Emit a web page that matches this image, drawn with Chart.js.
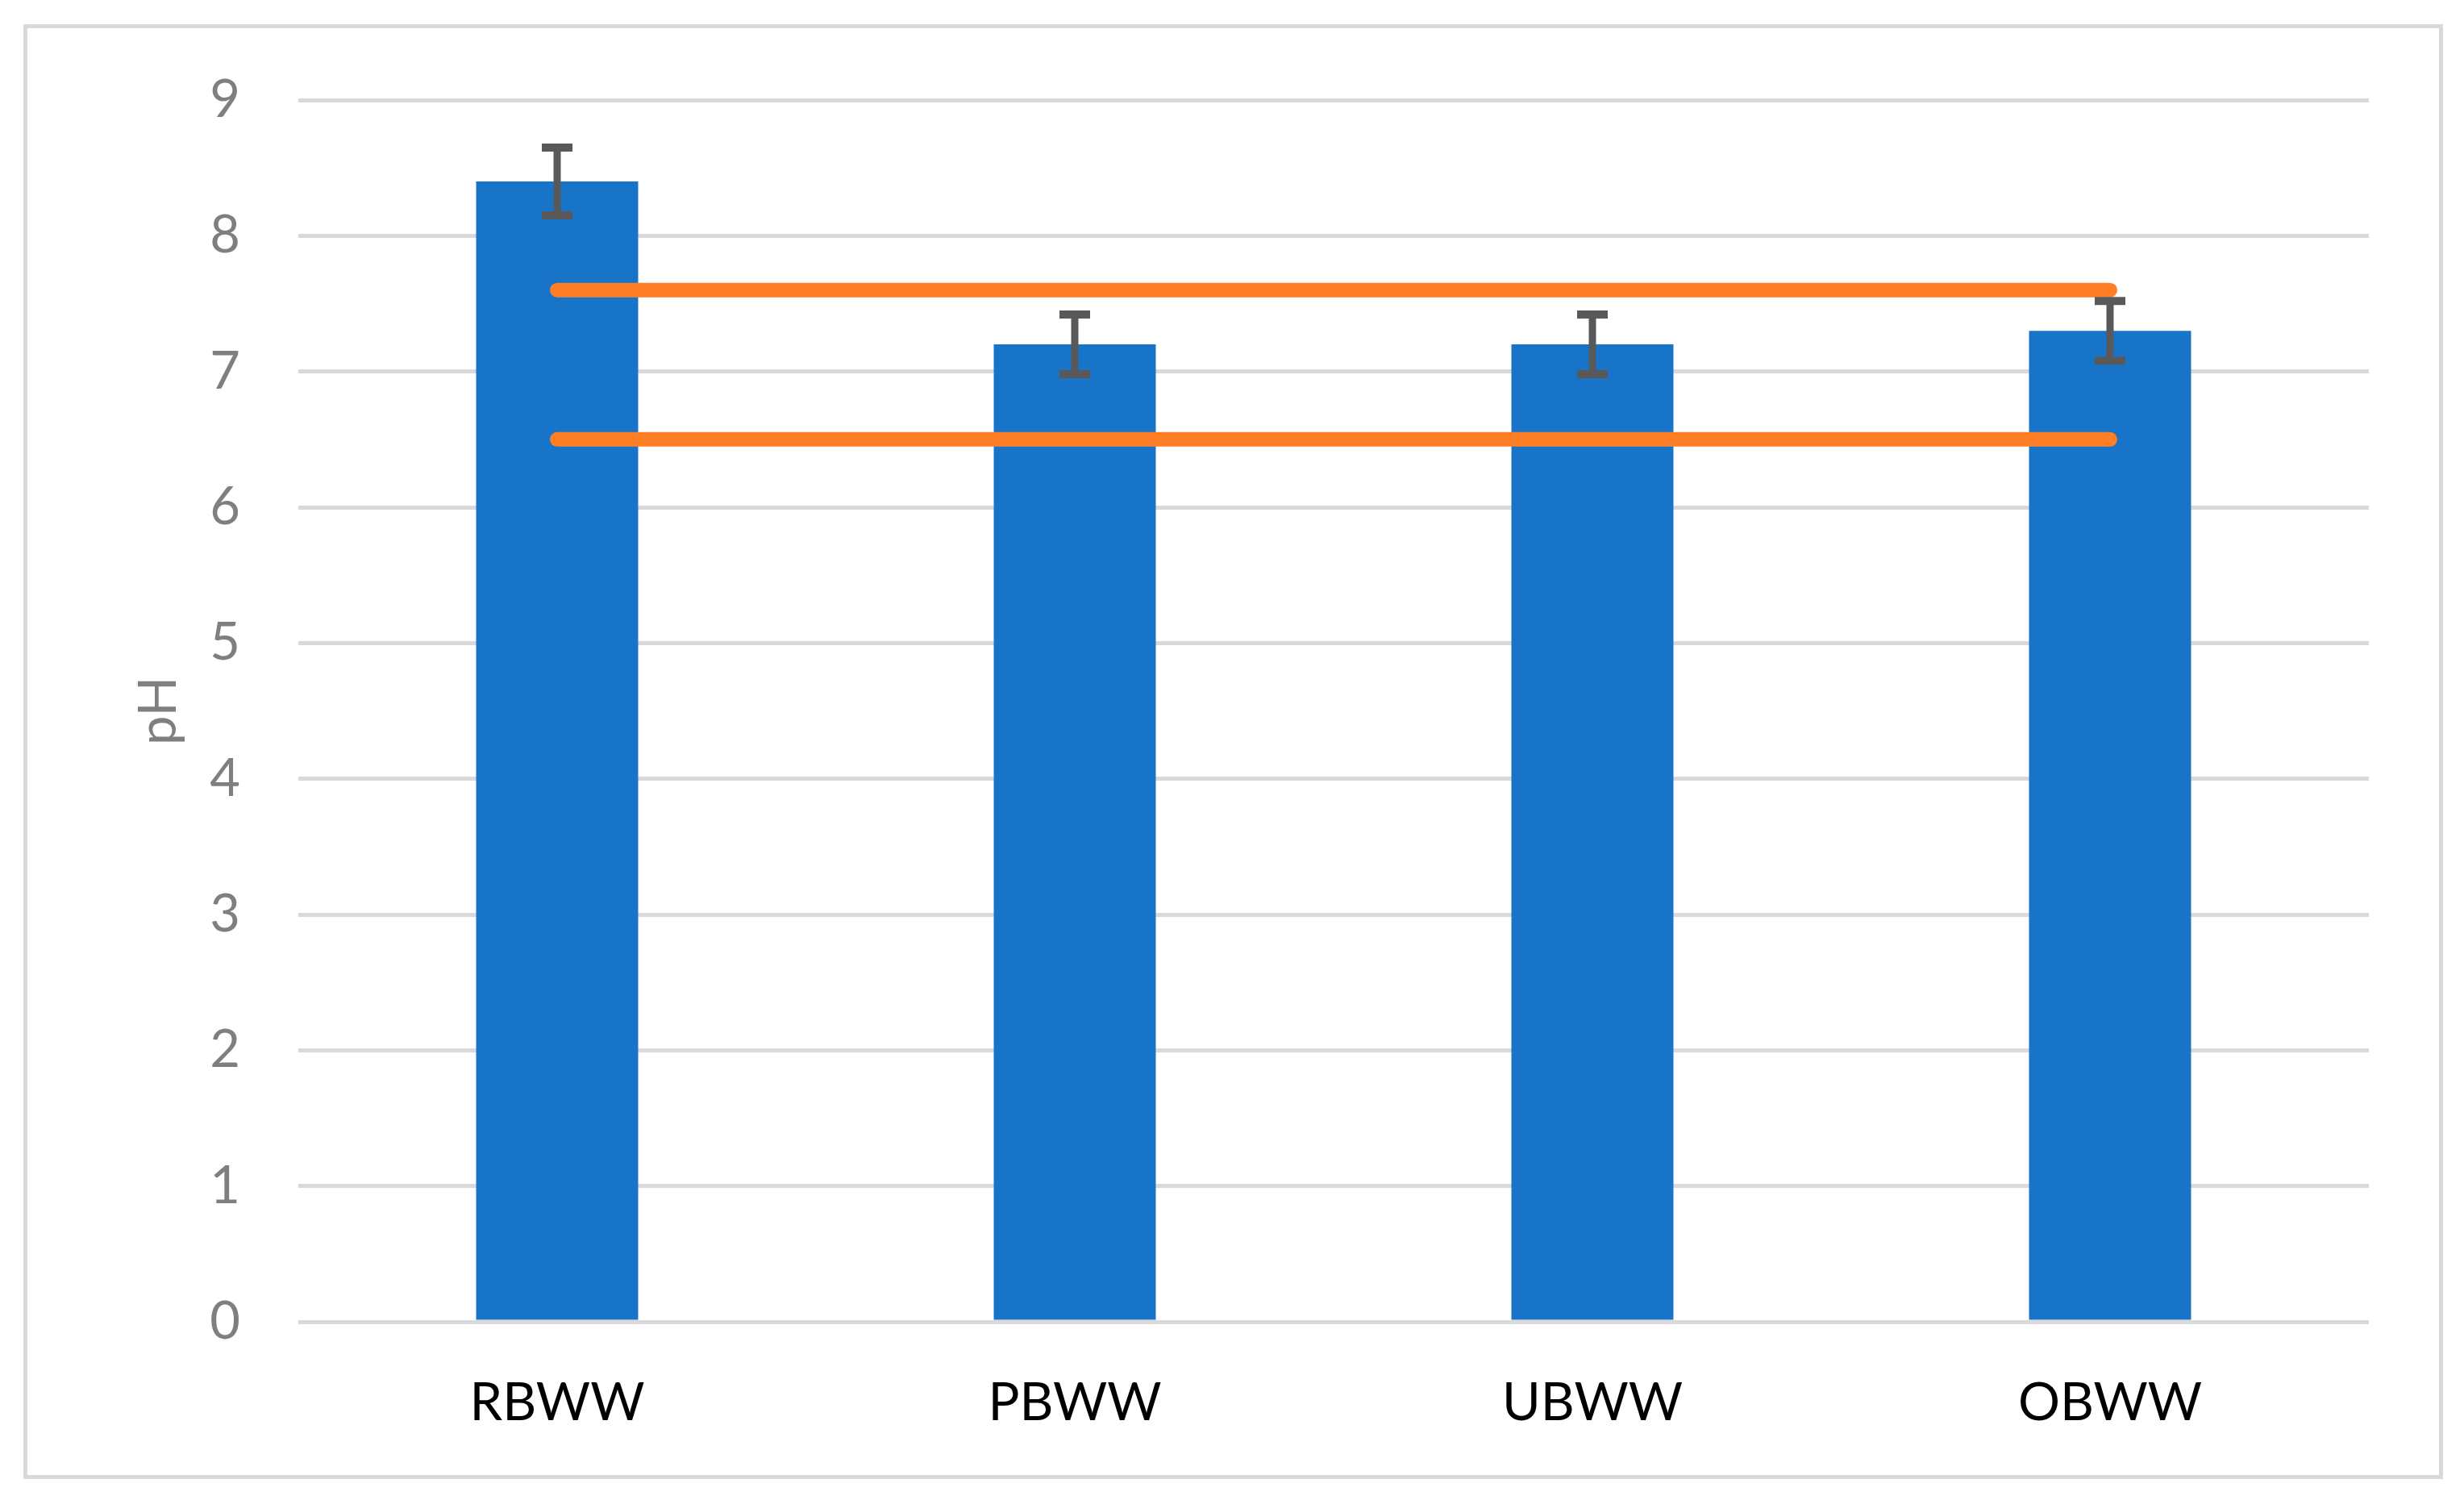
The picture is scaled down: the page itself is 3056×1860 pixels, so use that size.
<!DOCTYPE html>
<html>
<head>
<meta charset="utf-8">
<script src="https://cdn.jsdelivr.net/npm/chart.js@4.4.1/dist/chart.umd.min.js"></script>
<style>
  html, body { margin: 0; padding: 0; background: #ffffff; }
  #wrap { width: 3056px; height: 1860px; position: relative; }
</style>
</head>
<body>
<div id="wrap"><canvas id="c" width="3056" height="1860"></canvas></div>
<script>
const categories = ['RBWW', 'PBWW', 'UBWW', 'OBWW'];
const phValues = [8.4, 7.2, 7.2, 7.3];
const phError = [0.25, 0.22, 0.22, 0.22];
const upperLimit = [7.6, 7.6, 7.6, 7.6];
const lowerLimit = [6.5, 6.5, 6.5, 6.5];
const yMin = 0, yMax = 9, yStep = 1;

const FONT = 'Lato, "Open Sans", sans-serif';

const borderPlugin = {
  id: 'outerBorder',
  beforeDraw(chart) {
    const ctx = chart.ctx;
    ctx.save();
    ctx.fillStyle = '#ffffff';
    ctx.fillRect(0, 0, chart.width, chart.height);
    ctx.strokeStyle = '#d9d9d9';
    ctx.lineWidth = 5;
    ctx.strokeRect(31.5, 32.5, 2996, 1799);
    ctx.restore();
  }
};

const errorBarPlugin = {
  id: 'errorBars',
  afterDatasetsDraw(chart) {
    const meta = chart.getDatasetMeta(0);
    const y = chart.scales.y;
    const ctx = chart.ctx;
    ctx.save();
    ctx.strokeStyle = '#595959';
    ctx.lineCap = 'butt';
    meta.data.forEach((el, i) => {
      const v = phValues[i], e = phError[i];
      const yt = y.getPixelForValue(v + e);
      const yb = y.getPixelForValue(v - e);
      const x = el.x;
      ctx.lineWidth = 9;
      ctx.beginPath();
      ctx.moveTo(x, yt); ctx.lineTo(x, yb);
      ctx.stroke();
      ctx.lineWidth = 10;
      ctx.beginPath();
      ctx.moveTo(x - 19, yt); ctx.lineTo(x + 19, yt);
      ctx.moveTo(x - 19, yb); ctx.lineTo(x + 19, yb);
      ctx.stroke();
    });
    ctx.restore();
  }
};

new Chart(document.getElementById('c'), {
  data: {
    labels: categories,
    datasets: [
      {
        type: 'bar',
        label: 'pH',
        data: phValues,
        backgroundColor: '#1874c9',
        borderWidth: 0,
        barPercentage: 0.313,
        categoryPercentage: 1,
        order: 2
      },
      {
        type: 'line',
        label: 'Upper limit',
        data: upperLimit,
        borderColor: '#ff7f27',
        borderWidth: 18,
        borderCapStyle: 'round',
        pointRadius: 0,
        fill: false,
        tension: 0,
        order: 1
      },
      {
        type: 'line',
        label: 'Lower limit',
        data: lowerLimit,
        borderColor: '#ff7f27',
        borderWidth: 18,
        borderCapStyle: 'round',
        pointRadius: 0,
        fill: false,
        tension: 0,
        order: 1
      }
    ]
  },
  options: {
    responsive: false,
    animation: false,
    devicePixelRatio: 1,
    layout: { padding: { left: 40, right: 118, top: 124, bottom: 0 } },
    plugins: { legend: { display: false }, tooltip: { enabled: false } },
    scales: {
      x: {
        offset: true,
        grid: { display: false, drawTicks: false },
        border: { display: false },
        ticks: { color: '#000000', font: { family: FONT, size: 65 }, padding: 62 },
        afterFit(s) { s.height = 221; }
      },
      y: {
        min: yMin, max: yMax,
        grid: { color: '#d9d9d9', lineWidth: 5, drawTicks: false },
        border: { display: false },
        ticks: { stepSize: yStep, color: '#7f7f7f', font: { family: FONT, size: 65 }, padding: 72 },
        title: { display: true, text: 'pH', color: '#7f7f7f', font: { family: FONT, size: 65 }, padding: { top: 118, bottom: 0 } },
        afterFit(s) { s.width = 330; }
      }
    }
  },
  plugins: [borderPlugin, errorBarPlugin]
});
</script>
</body>
</html>
